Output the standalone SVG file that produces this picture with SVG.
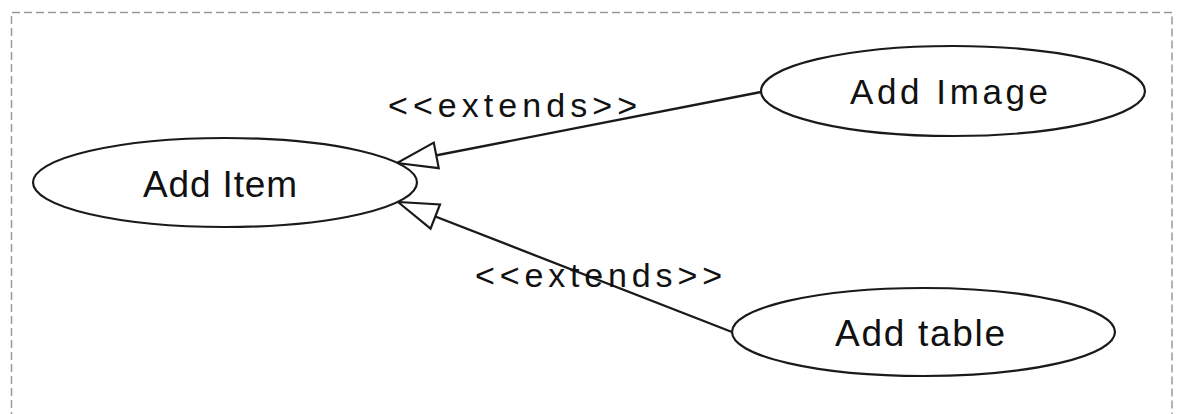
<svg xmlns="http://www.w3.org/2000/svg" width="1181" height="414" viewBox="0 0 1181 414">
<style>
.uc{fill:#fff;stroke:#1a1a1a;stroke-width:2.2}
.lbl{font-family:"Liberation Sans",Arial,sans-serif;fill:#111}
.edge{fill:none;stroke:#1a1a1a;stroke-width:2.3}
.frame{fill:none;stroke:#9a9a9a;stroke-width:1.5;stroke-dasharray:8 4}
</style>
<defs>
<marker id="ext" markerUnits="userSpaceOnUse" markerWidth="46" markerHeight="32" viewBox="0 0 46 32" refX="43" refY="16" orient="auto">
<path d="M43,16 L3,3 L3,29 Z" fill="#fff" stroke="#1a1a1a" stroke-width="2.2"/>
</marker>
</defs>
<rect width="1181" height="414" fill="#fff"/>
<path class="frame" d="M11.5,420 V12.5 H1172 V420"/>
<g id="connectors">
<path class="edge" d="M761,92 L397,163" marker-end="url(#ext)"/>
<path class="edge" d="M732,332 L398,202" marker-end="url(#ext)"/>
<text class="lbl" x="388" y="117" font-size="34" textLength="249" lengthAdjust="spacing">&lt;&lt;extends&gt;&gt;</text>
<text class="lbl" x="475" y="287" font-size="34" textLength="247" lengthAdjust="spacing">&lt;&lt;extends&gt;&gt;</text>
</g>
<g id="add-item">
<ellipse class="uc" cx="225" cy="182.5" rx="192" ry="44.5"/>
<text class="lbl" x="143" y="197" font-size="37" textLength="154" lengthAdjust="spacing">Add Item</text>
</g>
<g id="add-image">
<ellipse class="uc" cx="953" cy="91" rx="192" ry="45"/>
<text class="lbl" x="850" y="104" font-size="35" textLength="198" lengthAdjust="spacing">Add Image</text>
</g>
<g id="add-table">
<ellipse class="uc" cx="923.5" cy="332" rx="191.5" ry="44"/>
<text class="lbl" x="835" y="346" font-size="37" textLength="170" lengthAdjust="spacing">Add table</text>
</g>
</svg>
